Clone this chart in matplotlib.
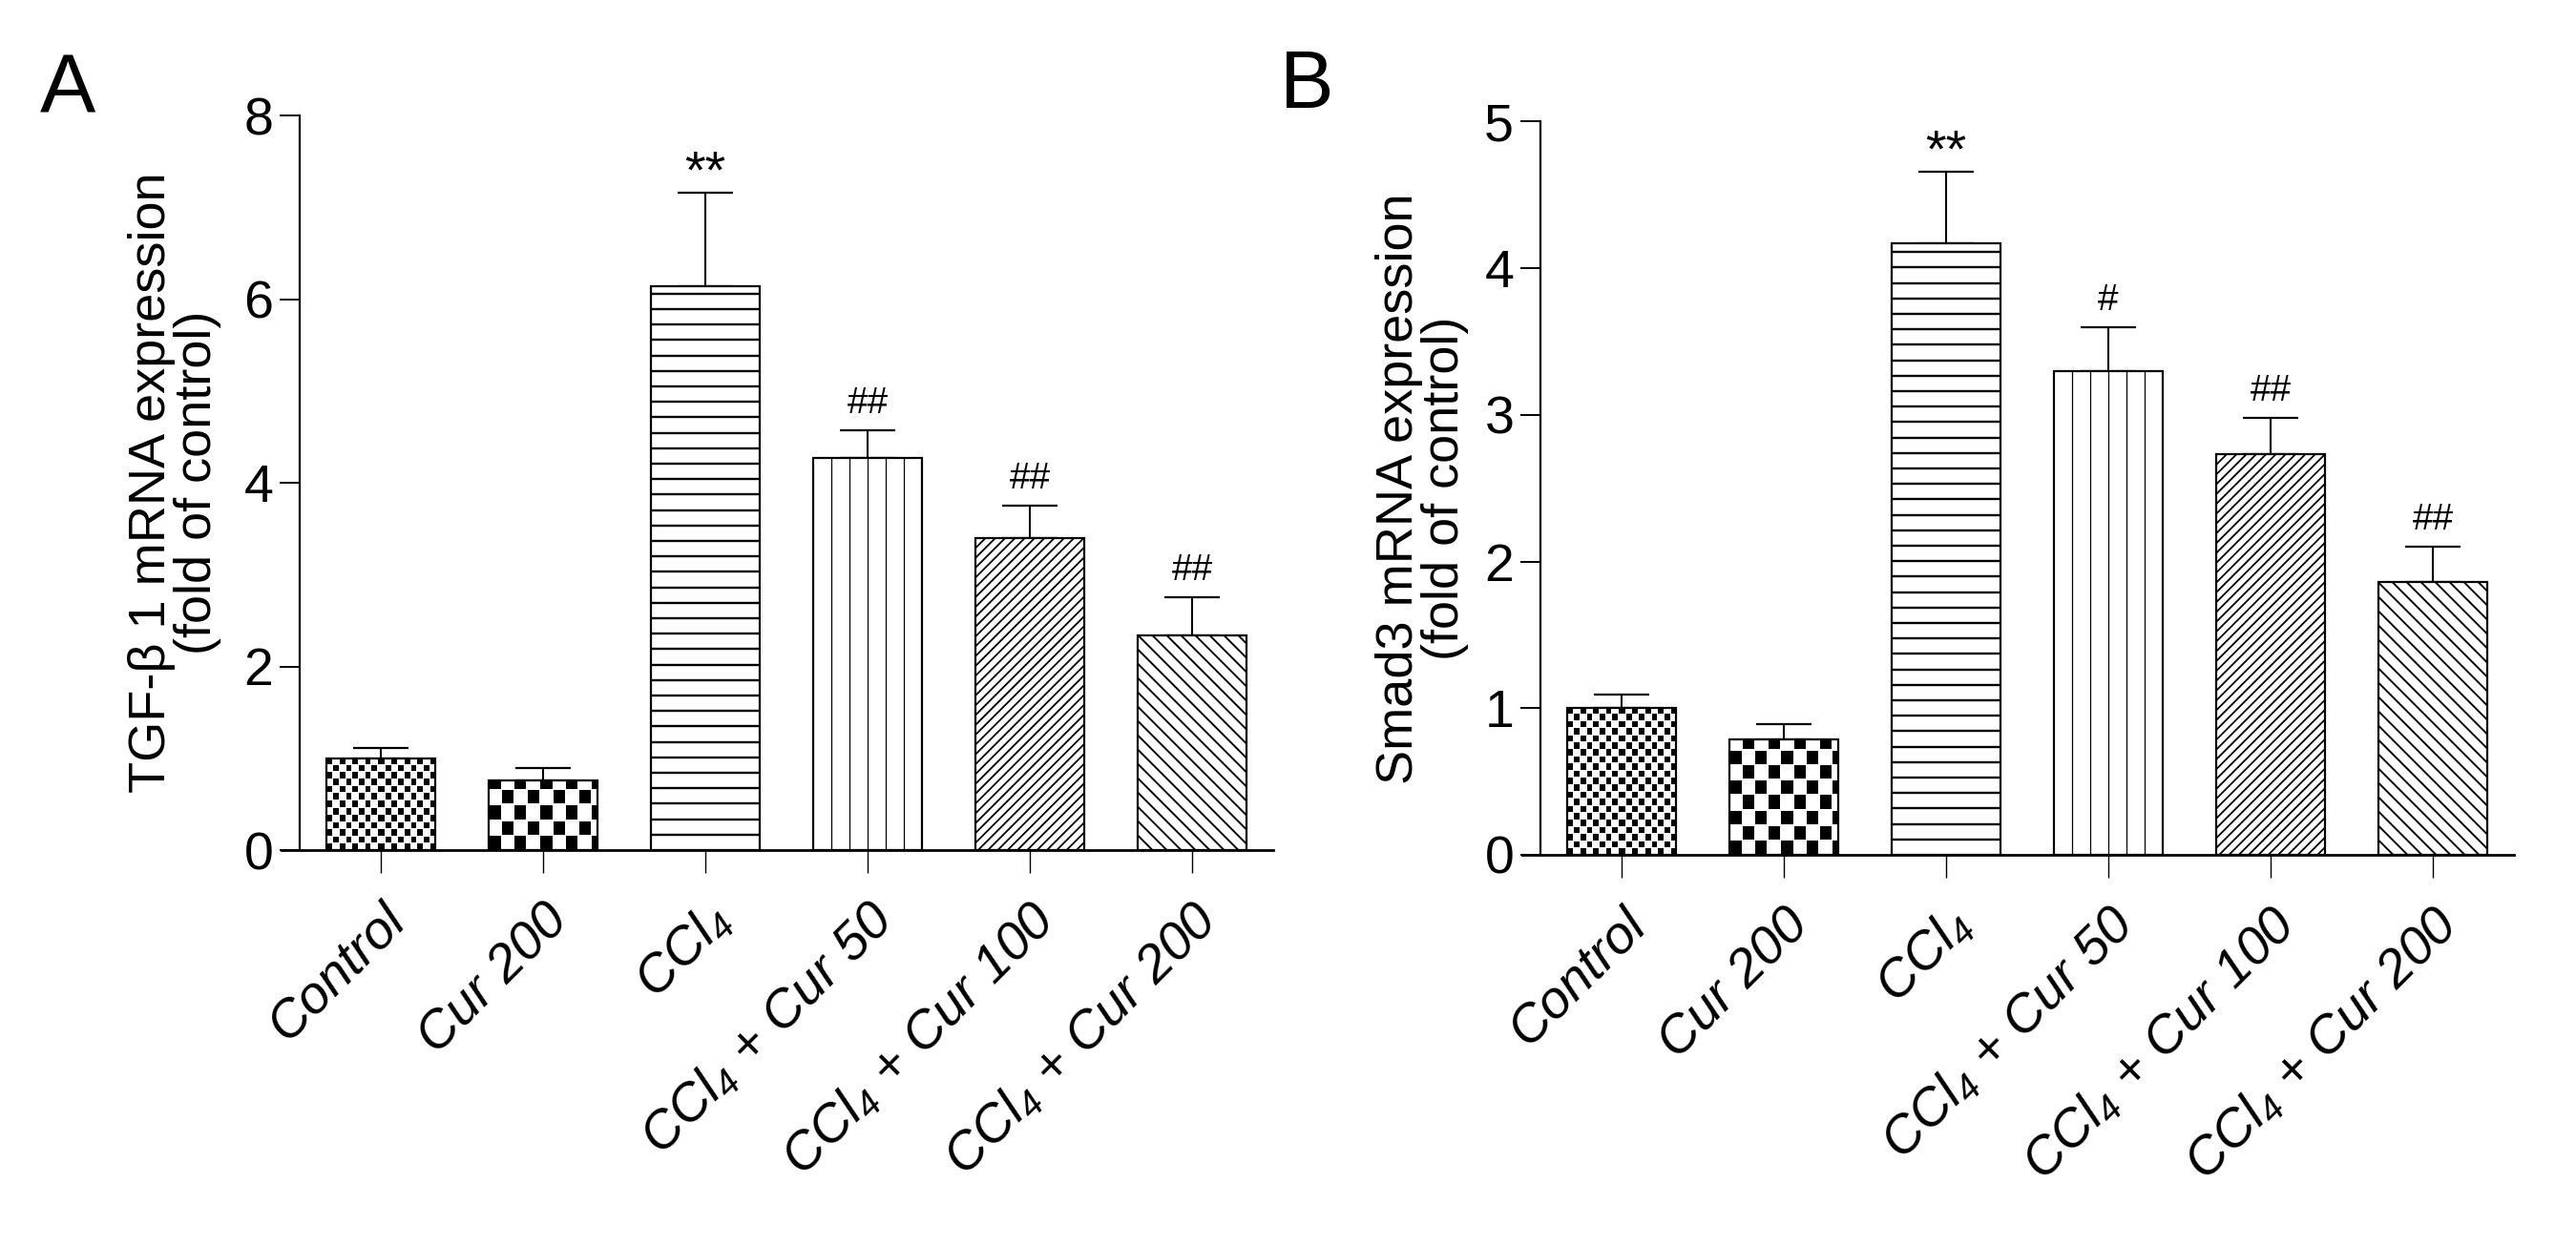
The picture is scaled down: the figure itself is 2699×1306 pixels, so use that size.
import numpy as np
import matplotlib
matplotlib.use('Agg')
import matplotlib.pyplot as plt
from matplotlib.collections import LineCollection

plt.rcParams['font.family'] = ['Liberation Sans', 'DejaVu Sans']
plt.rcParams['mathtext.fontset'] = 'custom'
plt.rcParams['mathtext.rm'] = 'Liberation Sans:italic'
plt.rcParams['mathtext.it'] = 'Liberation Sans:italic'

# data
groups = ['Control', 'Cur 200', 'CCl$_4$', 'CCl$_4$ + Cur 50',
          'CCl$_4$ + Cur 100', 'CCl$_4$ + Cur 200']

tgf_mean = [1.00, 0.76, 6.14, 4.27, 3.40, 2.34]
tgf_sem = [0.11, 0.13, 1.02, 0.30, 0.35, 0.41]
tgf_marks = ['', '', '**', '##', '##', '##']

smad_mean = [1.00, 0.79, 4.17, 3.30, 2.73, 1.86]
smad_sem = [0.09, 0.10, 0.49, 0.30, 0.25, 0.24]
smad_marks = ['', '', '**', '#', '##', '##']

fills = ['checker_small', 'checker_big', 'hlines', 'vlines', 'ne', 'nw']


def fill_pattern(ax, rect, kind):
    # pattern built in pixel space, clipped to the bar
    x = [rect.get_x(), rect.get_x() + rect.get_width()]
    y = [rect.get_y(), rect.get_y() + rect.get_height()]
    (px0, py0), (px1, py1) = ax.transData.transform(np.column_stack([x, y]))
    w, h = px1 - px0, py1 - py0
    inv = ax.transData.inverted()

    if kind.startswith('checker'):
        cw, ch, ins = (6.7, 7.4, 0.88) if kind == 'checker_small' else (13.3, 15.6, 0.9)
        nw, nh = max(int(round(w)), 1), max(int(round(h)), 1)
        jj, ii = np.meshgrid(np.arange(nw) + 0.5, np.arange(nh) + 0.5)
        cx, cy = jj / cw, ii / ch
        on = (np.floor(cx) + np.floor(cy)) % 2 == 0
        inner = (np.abs(cx % 1 - 0.5) < ins / 2) & (np.abs(cy % 1 - 0.5) < ins / 2)
        img = np.where(on & inner, 0.0, 1.0)
        im = ax.imshow(img, cmap='gray', vmin=0, vmax=1, origin='lower',
                       extent=(x[0], x[1], y[0], y[1]), aspect='auto',
                       interpolation='nearest', zorder=2.5)
        im.set_clip_path(rect)
        return

    segs = []
    if kind == 'hlines':
        lw = 1.7
        for yy in np.arange(py0 + 16.2, py1, 16.2):
            segs.append([(px0, yy), (px1, yy)])
    elif kind == 'vlines':
        lw = 0.9
        for k in range(1, 6):
            xx = px0 + w * k / 6
            segs.append([(xx, py0), (xx, py1)])
    elif kind == 'ne':
        lw = 1.3
        for c in np.arange(-h, w, 10.3):
            segs.append([(px0 + c, py0), (px0 + c + h + 20, py0 + h + 20)])
    elif kind == 'nw':
        lw = 1.4
        for c in np.arange(0, w + h, 15.0):
            segs.append([(px0 + c, py0), (px0 + c - h - 20, py0 + h + 20)])
    segs = [inv.transform(np.array(s)) for s in segs]
    lc = LineCollection(segs, colors='black', linewidths=lw, zorder=2.5)
    ax.add_collection(lc)
    lc.set_clip_path(rect)


def panel(ax, means, sems, marks, ymax, yticks, ylabel, label_x):
    xs = np.arange(len(groups))
    ax.set_xlim(-0.5, len(groups) - 0.5)
    ax.set_ylim(0, ymax)

    ax.errorbar(xs, means, yerr=[np.zeros(len(sems)), sems], fmt='none',
                ecolor='black', elinewidth=1.5, capsize=21, capthick=1.6, zorder=1)
    bars = ax.bar(xs, means, width=0.665, color='white', edgecolor='none', zorder=2)
    for rect, kind in zip(bars, fills):
        fill_pattern(ax, rect, kind)
    ax.bar(xs, means, width=0.665, facecolor='none', edgecolor='black',
           linewidth=1.6, zorder=3)

    for xi, m, s, mk in zip(xs, means, sems, marks):
        if not mk:
            continue
        if '*' in mk:
            ax.annotate(mk, (xi, m + s), xytext=(0, 4), textcoords='offset points',
                        ha='center', va='baseline', fontsize=40)
        else:
            ax.annotate(mk, (xi, m + s), xytext=(0, 13), textcoords='offset points',
                        ha='center', va='baseline', fontsize=28)

    ax.set_xlim(-0.5, len(groups) - 0.5)
    ax.set_ylim(0, ymax)
    ax.spines['top'].set_visible(False)
    ax.spines['right'].set_visible(False)
    ax.spines['left'].set_linewidth(1.6)
    ax.spines['bottom'].set_linewidth(2.0)
    ax.spines['bottom'].set_bounds(-0.61, len(groups) - 0.5)

    ax.set_yticks(yticks)
    ax.tick_params(axis='y', direction='out', length=15, width=1.4, labelsize=40, pad=5)
    ax.tick_params(axis='x', direction='out', length=17, width=1.0, pad=17)
    ax.set_xticks(xs)
    ax.set_xticklabels(groups, rotation=45, ha='right', rotation_mode='anchor',
                       fontstyle='italic', fontsize=40)
    ax.set_ylabel(ylabel, fontsize=39, linespacing=0.95)
    ax.yaxis.set_label_coords(label_x, 0.5)


fig = plt.figure(figsize=(26.99, 13.06), dpi=100)
axA = fig.add_axes([314 / 2699, 1 - 891 / 1306, 1020 / 2699, 770 / 1306])
axB = fig.add_axes([1614 / 2699, 1 - 896 / 1306, 1020 / 2699, 768.6 / 1306])

panel(axA, tgf_mean, tgf_sem, tgf_marks, 8, [0, 2, 4, 6, 8],
      'TGF-β 1 mRNA expression\n(fold of control)', -0.080)
panel(axB, smad_mean, smad_sem, smad_marks, 5, [0, 1, 2, 3, 4, 5],
      'Smad3 mRNA expression\n(fold of control)', -0.0735)

fig.text(42 / 2699, 1 - 119 / 1306, 'A', fontsize=63, ha='left', va='baseline')
fig.text(1341 / 2699, 1 - 113 / 1306, 'B', fontsize=61, ha='left', va='baseline')

fig.savefig('out.png', dpi=100)
